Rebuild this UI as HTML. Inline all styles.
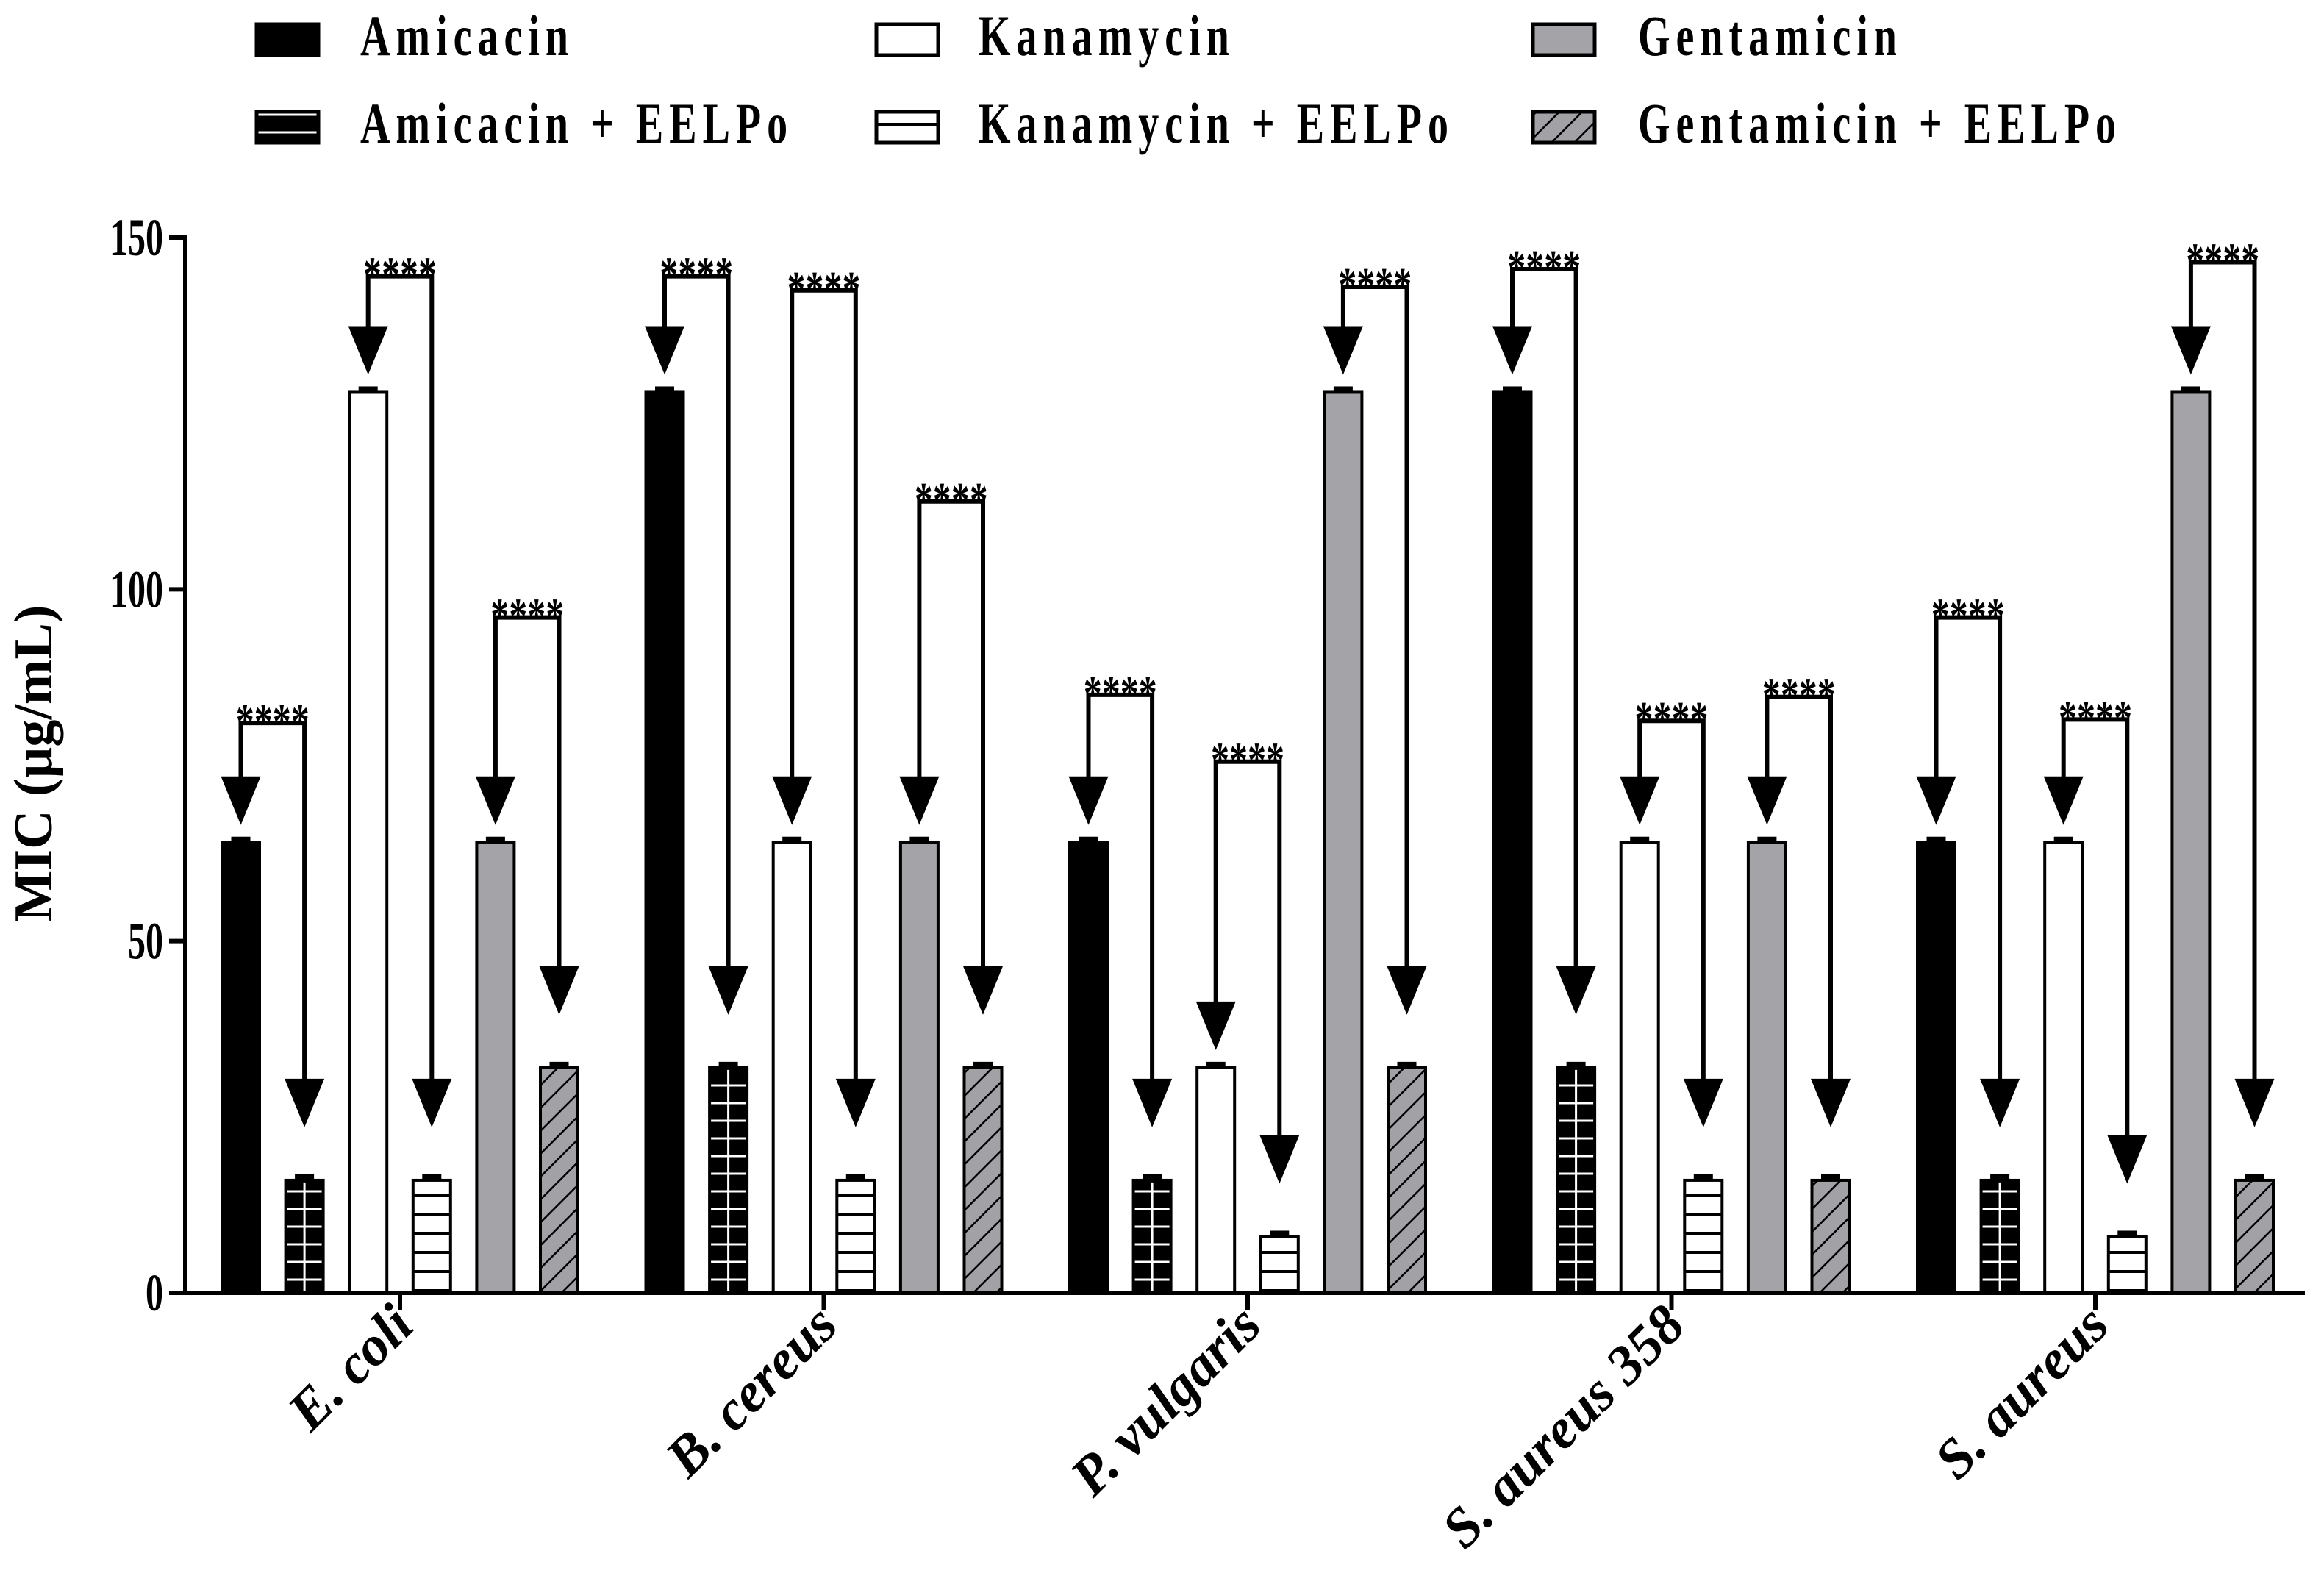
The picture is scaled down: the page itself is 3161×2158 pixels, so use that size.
<!DOCTYPE html>
<html><head><meta charset="utf-8">
<style>
html,body{margin:0;padding:0;background:#fff;}
svg{display:block;font-family:"Liberation Serif",serif;}
</style></head>
<body>
<svg id="chart" width="3161" height="2158" viewBox="0 0 3161 2158" xmlns="http://www.w3.org/2000/svg">
<defs>
<pattern id="pGrid" patternUnits="userSpaceOnUse" width="27" height="24" x="0" y="0">
<rect width="27" height="24" fill="#000"/>
<line x1="0" y1="12" x2="27" y2="12" stroke="#fff" stroke-width="3"/>
</pattern>
<pattern id="pHoriz" patternUnits="userSpaceOnUse" width="10" height="26">
<rect width="10" height="26" fill="#fff"/>
<line x1="0" y1="13" x2="10" y2="13" stroke="#000" stroke-width="4"/>
</pattern>
<pattern id="pDiag" patternUnits="userSpaceOnUse" width="22" height="22" patternTransform="rotate(45)">
<rect width="22" height="22" fill="#a2a2a6"/>
<line x1="0" y1="0" x2="0" y2="22" stroke="#000" stroke-width="5"/>
</pattern>
</defs>
<g id="legend"></g>
<g id="plot"></g>
</svg>
<script>
const categories = ["E. coli","B. cereus","P. vulgaris","S. aureus 358","S. aureus"];
const seriesNames = ["Amicacin","Amicacin + EELPo","Kanamycin","Kanamycin + EELPo","Gentamicin","Gentamicin + EELPo"];
const amicacin = [64,128,64,128,64];
const amicacinEELPo = [16,32,16,32,16];
const kanamycin = [128,64,32,64,64];
const kanamycinEELPo = [16,16,8,16,8];
const gentamicin = [64,64,128,64,128];
const gentamicinEELPo = [32,32,32,16,16];
const yTicks = [0,50,100,150];
// bracket top levels (MIC units) for pairs: Ami, Kan, Gen
const bracketAmi = [81,144.5,85,145.5,96];
const bracketKan = [144.5,142.5,75.5,81.3,81.5];
const bracketGen = [96,112.5,143,84.7,146.5];
const sigLabel = "****";

const NS="http://www.w3.org/2000/svg";
function mk(tag,attrs,parent){const e=document.createElementNS(NS,tag);for(const k in attrs)e.setAttribute(k,attrs[k]);parent.appendChild(e);return e;}
const plot=document.getElementById('plot');
const legend=document.getElementById('legend');
const X0=252, Y0=1758, Ytop=323, YMAX=150;
const groupStart=300, groupStep=576.5, barStep=86.6, barW=55;
function yS(v){return Y0-(v/YMAX)*(Y0-Ytop);}
function barX(g,j){return groupStart+g*groupStep+j*barStep;}
const fills=["#000","url(#pGrid)","#fff","url(#pHoriz)","#a4a4a8","url(#pDiag)"];
const series=[amicacin,amicacinEELPo,kanamycin,kanamycinEELPo,gentamicin,gentamicinEELPo];

// legend
const legPos=[[347,490,31],[347,490,150],[1190,1331,31],[1190,1331,150],[2083,2228,31],[2083,2228,150]];
seriesNames.forEach((n,i)=>{
  const p=legPos[i];
  const r=mk('rect',{x:p[0]+2,y:p[2]+2,width:84,height:42,fill:fills[i],stroke:'#000','stroke-width':5},legend);
  
  
  const t=mk('text',{x:0,y:0,'font-size':56,'font-weight':'bold','letter-spacing':8,transform:`translate(${p[1]},${p[2]+44}) scale(1,1.4)`},legend);
  t.textContent=n;
  
  
});

// bars
series.forEach((s,j)=>{
  s.forEach((v,g)=>{
    const x=barX(g,j), y=yS(v);
    const r=mk('rect',{x:x+2,y:y,width:barW-4,height:Y0-y,fill:fills[j],stroke:'#000','stroke-width':4},plot);
    
    
    if(j===1){ mk('line',{x1:x+barW/2,y1:y+3,x2:x+barW/2,y2:Y0,stroke:'#fff','stroke-width':3},plot); }
    const c=mk('rect',{x:x+barW/2-13,y:y-8,width:26,height:8,fill:'#000'},plot);
    
    
  });
});

// brackets
const pairs=[[0,1,bracketAmi],[2,3,bracketKan],[4,5,bracketGen]];
pairs.forEach(([a,b,lev])=>{
  lev.forEach((L,g)=>{
    const xa=barX(g,a)+barW/2, xb=barX(g,b)+barW/2, yl=yS(L);
    const ta=yS(series[a][g])-24, tb=yS(series[b][g])-72;
    const hh=66, hw=27;
    const p=mk('path',{d:`M${xa},${ta-hh+4} L${xa},${yl} L${xb},${yl} L${xb},${tb-hh+4}`,fill:'none',stroke:'#000','stroke-width':6},plot);
    
    
    [[xa,ta],[xb,tb]].forEach(([x,t])=>{
      const h=mk('polygon',{points:`${x-hw},${t-hh} ${x+hw},${t-hh} ${x},${t}`,fill:'#000'},plot);
      
      
    });
    const st=mk('text',{x:0,y:0,'text-anchor':'middle','font-size':50,'font-weight':'bold',transform:`translate(${(xa+xb)/2},${yl+22}) scale(1,1.4)`},plot);
    st.textContent=sigLabel;
    
    
  });
});

// axes
const ya=mk('line',{x1:X0,y1:Ytop-3,x2:X0,y2:Y0+3,stroke:'#000','stroke-width':6},plot);


const xa=mk('line',{x1:X0-3,y1:Y0,x2:3135,y2:Y0,stroke:'#000','stroke-width':6},plot);


yTicks.forEach(v=>{
  const y=yS(v);
  mk('line',{x1:X0-22,y1:y,x2:X0,y2:y,stroke:'#000','stroke-width':6},plot);
  const t=mk('text',{x:0,y:0,'text-anchor':'end','font-size':48,'font-weight':'bold',transform:`translate(${X0-30},${y+24}) scale(1,1.5)`},plot);
  t.textContent=v;
  
  
});
categories.forEach((c,g)=>{
  const cx=barX(g,0)+2.5*barStep+barW/2;
  mk('line',{x1:cx,y1:Y0,x2:cx,y2:Y0+24,stroke:'#000','stroke-width':6},plot);
  const tx=cx+22, ty=Y0+48;
  const t=mk('text',{x:tx,y:ty,'text-anchor':'end','font-size':76,'font-weight':'bold','font-style':'italic',transform:`rotate(-45 ${tx} ${ty})`},plot);
  t.textContent=c;
  
  
});
const yt=mk('text',{x:70,y:1038,'text-anchor':'middle','font-size':74,'font-weight':'bold',transform:'rotate(-90 70 1038)'},plot);
yt.textContent="MIC (µg/mL)";


</script>
</body></html>
